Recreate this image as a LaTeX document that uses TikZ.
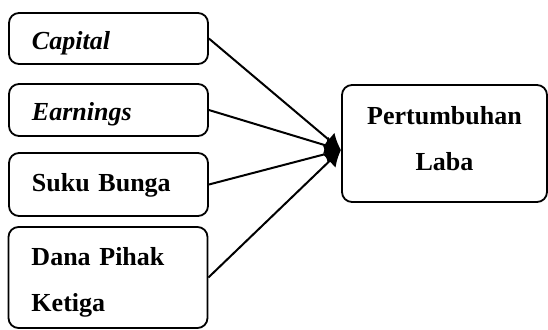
\documentclass[tikz,border=0pt]{standalone}
\usepackage{fontspec}
\setmainfont{Liberation Serif}
\usepackage{tikz}
\usetikzlibrary{arrows.meta}

\begin{document}
\begin{tikzpicture}[x=0.5pt,y=-0.5pt]
\tikzstyle{every node}+=[inner sep=0pt]
\tikzstyle{varbox}=[draw, line width=0.9pt, rounded corners=5pt, font=\fontsize{13}{23}\selectfont\bfseries]
\tikzstyle{inbox}=[varbox, inner xsep=11.5pt, text width=76.5pt, align=left]
\tikzstyle{link}=[line width=1pt, -{Latex[length=8pt,width=9pt]}]
\useasboundingbox (0,0) rectangle (548,329);
\node [inbox, minimum height=25.5pt, text height=11.1pt, text depth=0pt] (capital) at (108.5,38.5) {\textit{Capital}};
\node [inbox, minimum height=26pt, text height=10.6pt, text depth=0pt] (earnings) at (108.5,110) {\textit{Earnings}};
\node [inbox, minimum height=31.5pt, text height=9.6pt, text depth=3pt] (suku) at (108.5,184.5) {Suku Bunga};
\node [inbox, minimum height=50.5pt, text height=11.1pt, text depth=23pt] (dana) at (108,277.5) {Dana Pihak\\Ketiga};
\node [varbox, minimum width=102.5pt, minimum height=58.5pt, align=center, text height=30pt, text depth=2.9pt] (laba) at (444.5,143.5) {Pertumbuhan\\Laba};
\coordinate (tip) at (341,150);
\draw [link] (capital.east) -- (tip);
\draw [link] (earnings.east) -- (tip);
\draw [link] (suku.east) -- (tip);
\draw [link] (dana.east) -- (tip);
\end{tikzpicture}
\end{document}
